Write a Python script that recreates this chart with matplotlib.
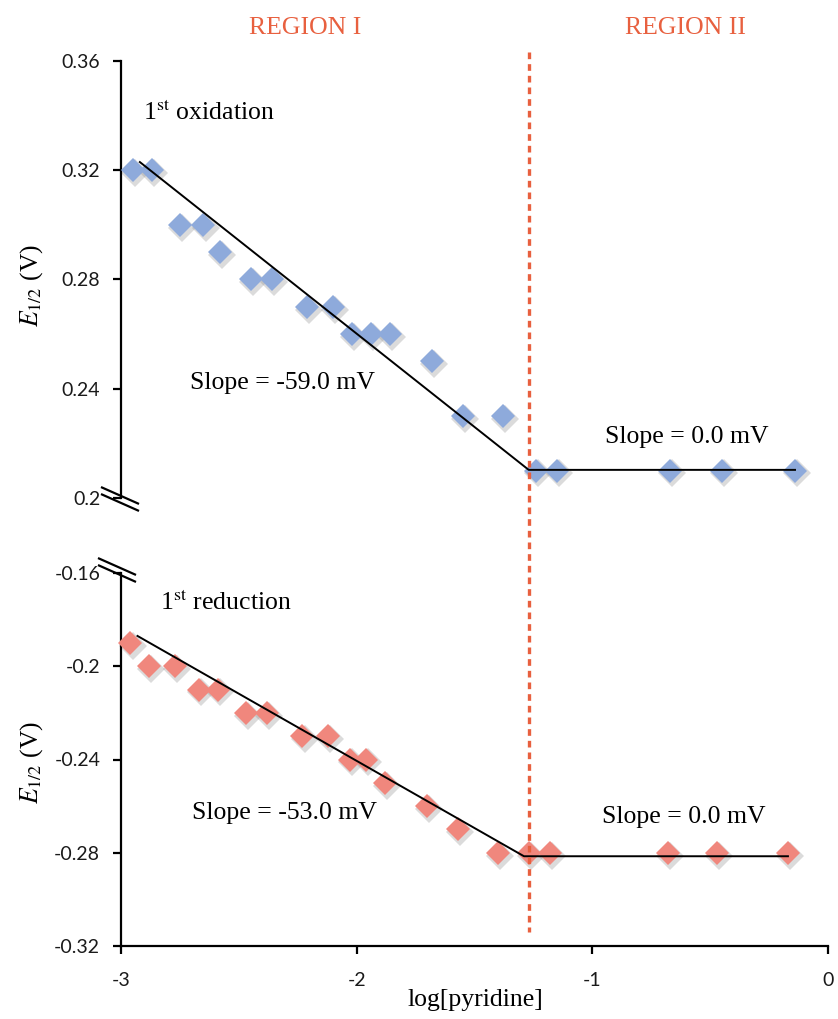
import matplotlib
matplotlib.use("Agg")
import matplotlib.pyplot as plt
import matplotlib.transforms as mtransforms
from matplotlib.lines import Line2D

# ---------------- data ----------------
ox_x = [-2.95, -2.87, -2.75, -2.65, -2.58, -2.45, -2.36, -2.21, -2.10, -2.02,
        -1.94, -1.86, -1.68, -1.55, -1.38, -1.24, -1.15, -0.67, -0.45, -0.14]
ox_y = [0.32, 0.32, 0.30, 0.30, 0.29, 0.28, 0.28, 0.27, 0.27, 0.26,
        0.26, 0.26, 0.25, 0.23, 0.23, 0.21, 0.21, 0.21, 0.21, 0.21]

red_x = [-2.96, -2.88, -2.77, -2.67, -2.59, -2.47, -2.38, -2.23, -2.12, -2.03,
         -1.96, -1.88, -1.70, -1.57, -1.40, -1.27, -1.18, -0.68, -0.47, -0.17]
red_y = [-0.19, -0.20, -0.20, -0.21, -0.21, -0.22, -0.22, -0.23, -0.23, -0.24,
         -0.24, -0.25, -0.26, -0.27, -0.28, -0.28, -0.28, -0.28, -0.28, -0.28]

fit_ox_x = [-2.92, -1.27, -0.14]
fit_ox_y = [0.323, 0.2103, 0.2103]
fit_red_x = [-2.93, -1.29, -0.17]
fit_red_y = [-0.187, -0.2815, -0.2815]

boundary_x = -1.27

top_yticks = [0.2, 0.24, 0.28, 0.32, 0.36]
top_ylabels = ["0.2", "0.24", "0.28", "0.32", "0.36"]
bot_yticks = [-0.32, -0.28, -0.24, -0.2, -0.16]
bot_ylabels = ["-0.32", "-0.28", "-0.24", "-0.2", "-0.16"]
xticks = [-3, -2, -1, 0]
xlabels = ["-3", "-2", "-1", "0"]

# ---------------- style ----------------
plt.rcParams['mathtext.fontset'] = 'stix'
SERIF = ['Liberation Serif', 'DejaVu Serif']
SANS = ['Lato', 'DejaVu Sans']
BLUE = '#8eaadb'
RED = '#f0877d'
REGION = '#e8603f'
W, H = 838, 1019
FS = 18.5
TFS = 14

fig = plt.figure(figsize=(W / 100, H / 100), dpi=100)
ax1 = fig.add_axes([121 / W, 1 - 498 / H, 707 / W, 437 / H])
ax2 = fig.add_axes([121 / W, 1 - 946 / H, 707 / W, 373 / H])

for ax in (ax1, ax2):
    ax.set_xlim(-3, 0)
    ax.spines['top'].set_visible(False)
    ax.spines['right'].set_visible(False)
    ax.spines['left'].set_linewidth(1.6)
    ax.spines['bottom'].set_linewidth(1.6)
    ax.tick_params(axis='y', direction='out', length=6, width=1.6, pad=9,
                   labelsize=TFS)
    ax.tick_params(axis='x', direction='out', length=6, width=1.6, pad=13,
                   labelsize=TFS)

ax1.spines['bottom'].set_visible(False)
ax1.set_xticks([])
ax1.set_ylim(0.2, 0.36)
ax1.set_yticks(top_yticks)
ax1.set_yticklabels(top_ylabels, family=SANS, color='#1a1a1a')

ax2.set_ylim(-0.32, -0.16)
ax2.set_yticks(bot_yticks)
ax2.set_yticklabels(bot_ylabels, family=SANS, color='#1a1a1a')
ax2.set_xticks(xticks)
ax2.set_xticklabels(xlabels, family=SANS, color='#1a1a1a')

ms = 12.5
for ax, xs, ys, col, fx, fy in ((ax1, ox_x, ox_y, BLUE, fit_ox_x, fit_ox_y),
                                (ax2, red_x, red_y, RED, fit_red_x, fit_red_y)):
    sh = mtransforms.offset_copy(ax.transData, fig=fig, x=1.5, y=-2, units='points')
    ax.plot(xs, ys, 'D', ms=ms + 1.5, color='#8a8a8a', alpha=0.3, mew=0,
            transform=sh, clip_on=False, zorder=2)
    ax.plot(xs, ys, 'D', ms=ms, color=col, mew=0, clip_on=False, zorder=3)
    ax.plot(fx, fy, '-', color='black', lw=1.4, zorder=4, clip_on=False)

# vertical dashed boundary spanning both panels
bt = mtransforms.blended_transform_factory(ax1.transData, fig.transFigure)
fig.add_artist(Line2D([boundary_x, boundary_x], [1 - 52 / H, 1 - 932 / H],
                      transform=bt, color=REGION, lw=2.4,
                      linestyle=(0, (2.0, 1.5)), zorder=5))

# axis break marks
def brk(cx, cy):
    for off in (-3.5, 3.5):
        fig.add_artist(Line2D([(cx - 18) / W, (cx + 18) / W],
                              [1 - (cy - 8 + off) / H, 1 - (cy + 8 + off) / H],
                              transform=fig.transFigure, color='black', lw=1.6))
brk(120, 499)
brk(117, 570)

# texts
fig.text(305 / W, 1 - 28 / H, 'REGION I', color=REGION, family=SERIF,
         fontsize=FS, ha='center', va='center')
fig.text(685 / W, 1 - 28 / H, 'REGION II', color=REGION, family=SERIF,
         fontsize=FS, ha='center', va='center')

ax1.text(-2.907, 0.341, r'1$^{\mathrm{st}}$ oxidation', family=SERIF,
         fontsize=FS, ha='left', va='center')
ax1.text(-2.707, 0.2421, 'Slope = -59.0 mV', family=SERIF, fontsize=FS,
         ha='left', va='center')
ax1.text(-0.947, 0.2223, 'Slope = 0.0 mV', family=SERIF, fontsize=FS,
         ha='left', va='center')
ax2.text(-2.835, -0.1729, r'1$^{\mathrm{st}}$ reduction', family=SERIF,
         fontsize=FS, ha='left', va='center')
ax2.text(-2.698, -0.263, 'Slope = -53.0 mV', family=SERIF, fontsize=FS,
         ha='left', va='center')
ax2.text(-0.959, -0.2647, 'Slope = 0.0 mV', family=SERIF, fontsize=FS,
         ha='left', va='center')

fig.text(32 / W, 1 - 286 / H, r'$E_{1/2}$ (V)', family=SERIF, fontsize=FS,
         rotation=90, ha='center', va='center')
fig.text(32 / W, 1 - 763 / H, r'$E_{1/2}$ (V)', family=SERIF, fontsize=FS,
         rotation=90, ha='center', va='center')
fig.text(475 / W, 1 - 1000 / H, 'log[pyridine]', family=SERIF, fontsize=FS,
         ha='center', va='center')

fig.savefig('out.png', dpi=100)
